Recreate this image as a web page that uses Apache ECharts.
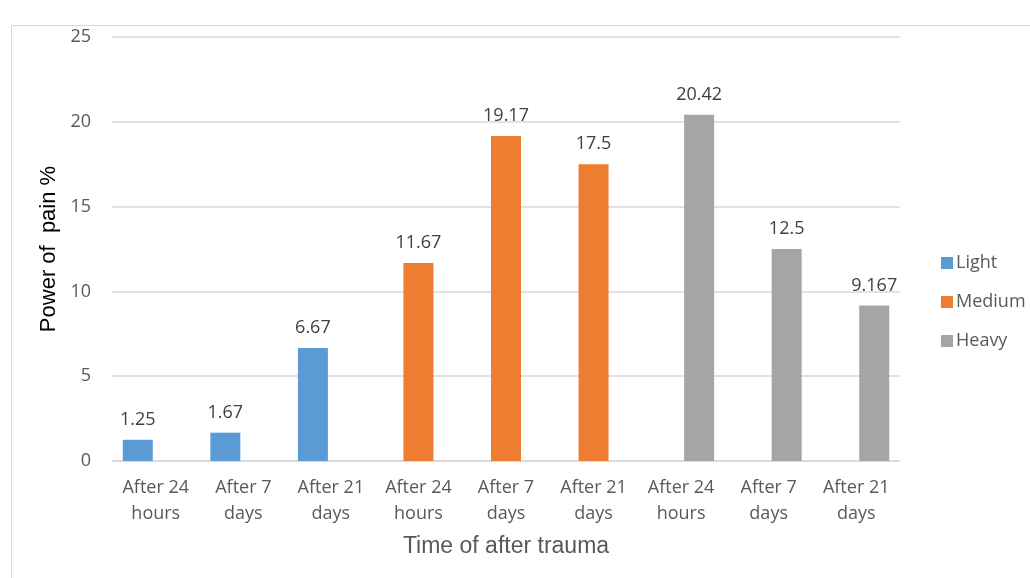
<!DOCTYPE html>
<html>
<head>
<meta charset="utf-8">
<script src="https://cdn.jsdelivr.net/npm/echarts@6/dist/echarts.min.js"></script>
<style>
  html, body { margin: 0; padding: 0; background: #fff; }
  #chart { width: 1030px; height: 578px; }
</style>
</head>
<body>
<div id="chart"></div>
<script>
// Pain power by period after trauma, grouped by severity
const categories = [
  'After 24\nhours', 'After 7\ndays', 'After 21\ndays',
  'After 24\nhours', 'After 7\ndays', 'After 21\ndays',
  'After 24\nhours', 'After 7\ndays', 'After 21\ndays'
];
const lightValues  = [1.25, 1.67, 6.67, null, null, null, null, null, null];
const mediumValues = [null, null, null, 11.67, 19.17, 17.5, null, null, null];
const heavyValues  = [null, null, null, null, null, null, 20.42, 12.5, 9.167];
const yTicks = { min: 0, max: 25, interval: 5 };

const FONT = '"Open Sans", "Noto Sans", sans-serif';
const labelStyle = {
  show: true,
  position: 'top',
  distance: 11,
  color: '#404040',
  fontFamily: FONT,
  fontSize: 18
};

function barSeries(name, data, color) {
  return {
    name: name,
    type: 'bar',
    data: data,
    barWidth: 30,
    barGap: '-40%',
    itemStyle: { color: color },
    label: labelStyle
  };
}

const chart = echarts.init(document.getElementById('chart'), null, { renderer: 'canvas' });
chart.setOption({
  animation: false,
  backgroundColor: '#fff',
  graphic: [{
    type: 'rect',
    left: 9, top: 23,
    shape: { width: 1040, height: 600 },
    style: { fill: 'none', stroke: '#D9D9D9', lineWidth: 1 },
    silent: true
  }],
  grid: { left: 112, right: 130, top: 37, bottom: 117 },
  legend: {
    orient: 'vertical',
    left: 936,
    top: 249,
    itemWidth: 12,
    itemHeight: 12,
    itemGap: 21,
    icon: 'rect',
    textStyle: { color: '#595959', fontFamily: FONT, fontSize: 18, padding: [0, 0, 0, -2] },
    data: ['Light', 'Medium', 'Heavy']
  },
  xAxis: {
    type: 'category',
    data: categories,
    name: 'Time of after trauma',
    nameLocation: 'middle',
    nameGap: 74,
    nameTextStyle: { color: '#595959', fontFamily: '"Liberation Sans", Arial, sans-serif', fontSize: 23 },
    axisLine: { lineStyle: { color: '#D9D9D9', width: 1.5 } },
    axisTick: { show: false },
    axisLabel: {
      color: '#595959',
      fontFamily: FONT,
      fontSize: 18,
      lineHeight: 26,
      margin: 14,
      interval: 0
    }
  },
  yAxis: {
    type: 'value',
    min: yTicks.min,
    max: yTicks.max,
    interval: yTicks.interval,
    name: 'Power of  pain %',
    nameLocation: 'middle',
    nameGap: 52,
    nameTextStyle: { color: '#000', fontFamily: '"Liberation Sans", Arial, sans-serif', fontSize: 22 },
    axisLine: { show: false },
    axisTick: { show: false },
    splitLine: { lineStyle: { color: '#D9D9D9', width: 1.5 } },
    axisLabel: { color: '#595959', fontFamily: FONT, fontSize: 18, margin: 21 }
  },
  series: [
    barSeries('Light', lightValues, '#5B9BD5'),
    barSeries('Medium', mediumValues, '#ED7D31'),
    barSeries('Heavy', heavyValues, '#A5A5A5')
  ]
});
</script>
</body>
</html>
